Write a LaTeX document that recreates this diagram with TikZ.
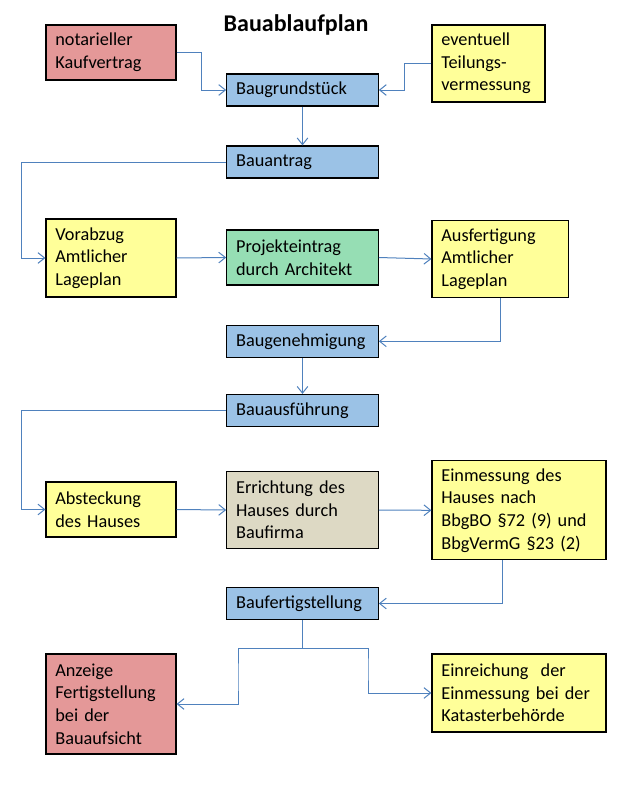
\documentclass[tikz,border=0pt]{standalone}
\usepackage{fontspec}
\setmainfont{Carlito}
\usetikzlibrary{arrows.meta}
\definecolor{cred}{RGB}{228,152,152}
\definecolor{cblue}{RGB}{155,194,230}
\definecolor{cgreen}{RGB}{150,222,180}
\definecolor{cyellow}{RGB}{255,255,153}
\definecolor{cgrey}{RGB}{221,217,196}
\definecolor{cline}{RGB}{79,129,189}
\begin{document}
\begin{tikzpicture}[x=0.75pt,y=-0.75pt,
  box/.style={draw=black, line width=0.9pt, inner xsep=7pt, inner ysep=0pt, align=left,
    font=\fontsize{13.7pt}{17pt}\selectfont, anchor=center},
  lcol/.style={minimum width=97.5pt, text width=83.5pt},
  mcol/.style={minimum width=113.6pt, text width=99.6pt},
  rsm/.style={minimum width=84.75pt, text width=70.75pt},
  rmd/.style={minimum width=102.4pt, text width=88.4pt},
  rlg/.style={minimum width=130.5pt, text width=116.5pt},
  fred/.style={fill=cred}, fblue/.style={fill=cblue}, fgreen/.style={fill=cgreen},
  fyel/.style={fill=cyellow}, fgrey/.style={fill=cgrey},
  arr/.style={draw=cline, line width=0.75pt, -{Straight Barb[length=5pt,width=8pt,line width=0.75pt]}},
  title/.style={font=\fontsize{18pt}{21pt}\selectfont\bfseries}]
\useasboundingbox (0,0) rectangle (639,785);

\node[title] (t) at (296,25) {Bauablaufplan};

\node[box,lcol,fred,minimum height=41.25pt] (nk) at (111,52.5) {notarieller\\Kaufvertrag};
\node[box,mcol,fblue,minimum height=24pt] (bg) at (302.5,90) {Baugrundstück};
\node[box,rsm,fyel,minimum height=57.75pt] (ev) at (488.5,63.5) {eventuell\\Teilungs-\\vermessung};
\node[box,mcol,fblue,minimum height=24pt] (ba) at (302.5,162) {Bauantrag};

\node[box,lcol,fyel,minimum height=58.5pt] (va) at (111,258) {Vorabzug\\Amtlicher\\Lageplan};
\node[box,mcol,fgreen,minimum height=41.25pt] (pe) at (302.5,257.5) {Projekteintrag\\durch Architekt};
\node[box,rmd,fyel,minimum height=57.75pt] (af) at (500.3,259) {Ausfertigung\\Amtlicher\\Lageplan};
\node[box,mcol,fblue,minimum height=24pt] (bgn) at (302.5,341.3) {Baugenehmigung};
\node[box,mcol,fblue,minimum height=24pt] (bau) at (302.5,410.5) {Bauausführung};

\node[box,lcol,fyel,minimum height=41.25pt] (ab) at (111,509.5) {Absteckung\\des Hauses};
\node[box,mcol,fgrey,minimum height=57.75pt] (er) at (302.5,510) {Errichtung des\\Hauses durch\\Baufirma};
\node[box,rlg,fyel,minimum height=74.25pt] (em) at (519,510.3) {Einmessung des\\Hauses nach\\BbgBO §72 (9) und\\BbgVermG §23 (2)};
\node[box,mcol,fblue,minimum height=24pt] (bf) at (302.5,603.5) {Baufertigstellung};

\node[box,lcol,fred,minimum height=75pt] (an) at (111,704) {Anzeige\\Fertigstellung\\bei der\\Bauaufsicht};
\node[box,rlg,fyel,minimum height=58.5pt] (ei) at (519,693) {Einreichung\ \ der\\Einmessung bei der\\Katasterbehörde};

\draw[arr] (nk.east) -- ++(25,0) |- (bg.west);
\draw[arr] (ev.west) -- ++(-26.5,0) |- (bg.east);
\draw[arr] (bg.south) -- (ba.north);
\draw[arr] (ba.west) -- ++(-205,0) |- (va.west);
\draw[arr] (va.east) -- (pe.west);
\draw[arr] (pe.east) -- (af.west);
\draw[arr] (af.south) |- (bgn.east);
\draw[arr] (bgn.south) -- (bau.north);
\draw[arr] (bau.west) -- ++(-205,0) |- (ab.west);
\draw[arr] (ab.east) -- (er.west);
\draw[arr] (er.east) -- (em.west);
\draw[arr] ([xshift=-12.4pt]em.south) |- (bf.east);
\draw[arr] (bf.south) -- ++(0,28) -| ++(-64.5,30) |- (an.east);
\draw[arr] (bf.south) -- ++(0,28) -| ++(65.5,20) |- (ei.west);
\end{tikzpicture}
\end{document}
